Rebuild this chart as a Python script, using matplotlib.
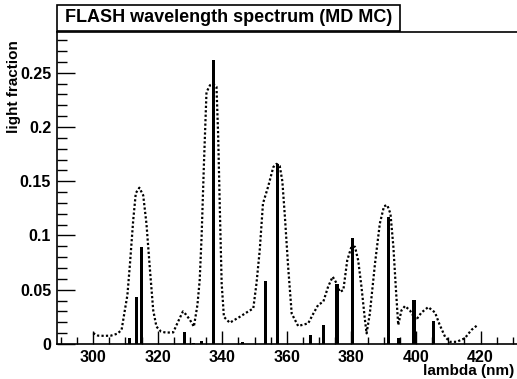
import numpy as np
import matplotlib
matplotlib.use('Agg')
import matplotlib.pyplot as plt
from matplotlib.ticker import MultipleLocator
from matplotlib.patches import Rectangle

plt.rcParams['font.family'] = ['Liberation Sans', 'DejaVu Sans']
plt.rcParams['font.weight'] = 'bold'

# MC lines (bars)
line_nm = [311.2, 313.4, 315.0, 328.2, 331.0, 333.5, 337.3, 346.3, 353.4, 357.2,
           367.3, 371.4, 375.5, 380.4, 391.5, 394.6, 399.4, 405.5]
line_frac = [0.0052, 0.0436, 0.0896, 0.0113, 0.0010, 0.0028, 0.2620, 0.0018, 0.0580, 0.1655,
             0.0083, 0.0175, 0.0552, 0.0979, 0.1170, 0.0052, 0.0405, 0.0212]

# measured spectrum (dotted)
spec_nm = [300.0, 301.5, 303.5, 305.5, 307.5, 308.8, 309.8, 310.6, 311.4, 312.4,
           313.2, 314.3, 315.5, 316.5, 317.6, 318.6, 319.6, 321.0, 322.5, 324.8,
           326.3, 327.8, 328.8, 330.0, 331.2, 332.3, 333.0, 333.6, 334.3, 335.1,
           336.2, 337.3, 338.2, 338.7, 339.3, 339.8, 340.5, 342.3, 345.4, 347.5,
           349.6, 350.6, 351.6, 352.6, 354.2, 355.8, 356.8, 357.8, 358.6, 359.4,
           360.4, 361.5, 363.5, 366.6, 368.2, 369.7, 371.3, 372.8, 374.2, 375.4,
           376.4, 377.5, 378.7, 380.0, 381.1, 382.1, 383.1, 384.2, 384.7, 385.7,
           387.3, 388.8, 390.1, 391.1, 392.1, 393.0, 393.8, 394.5, 395.5, 396.6,
           398.1, 400.0, 401.7, 403.8, 405.9, 407.3, 409.0, 410.5, 412.6, 415.1,
           417.2, 419.3]
spec_frac = [0.0100, 0.0077, 0.0075, 0.0077, 0.0095, 0.0130, 0.0310, 0.0450, 0.0740, 0.1140,
             0.1390, 0.1440, 0.1370, 0.1110, 0.0680, 0.0310, 0.0160, 0.0115, 0.0105, 0.0107,
             0.0206, 0.0300, 0.0270, 0.0221, 0.0160, 0.0360, 0.0590, 0.1000, 0.1650, 0.2320,
             0.2385, 0.2395, 0.2370, 0.1940, 0.1170, 0.0560, 0.0250, 0.0196, 0.0250, 0.0290,
             0.0328, 0.0560, 0.0866, 0.1295, 0.1450, 0.1630, 0.1660, 0.1640, 0.1500, 0.1170,
             0.0710, 0.0280, 0.0166, 0.0190, 0.0280, 0.0360, 0.0390, 0.0530, 0.0620, 0.0560,
             0.0480, 0.0497, 0.0770, 0.0896, 0.0896, 0.0770, 0.0530, 0.0220, 0.0098, 0.0280,
             0.0740, 0.1110, 0.1270, 0.1280, 0.1200, 0.0896, 0.0497, 0.0175, 0.0310, 0.0350,
             0.0310, 0.0220, 0.0290, 0.0340, 0.0290, 0.0180, 0.0067, 0.0020, 0.0020, 0.0052,
             0.0130, 0.0180]

x_ticks = [300, 320, 340, 360, 380, 400, 420]
y_ticks = [0, 0.05, 0.1, 0.15, 0.2, 0.25]
y_labels = ['0', '0.05', '0.1', '0.15', '0.2', '0.25']

W, H = 517, 379
fig = plt.figure(figsize=(W / 100, H / 100), dpi=100)
x0, x1 = 288.7, 440.0
px_per_nm = 3.228
ax = fig.add_axes([56.7 / W, (H - 344) / H, (x1 - x0) * px_per_nm / W, (344 - 32) / H])

ax.bar(line_nm, line_frac, width=1.0, color='black', linewidth=0)
ax.plot(spec_nm, spec_frac, color='black', linestyle=(0, (1, 1)), linewidth=1.6)

ax.set_xlim(x0, x1)
ax.set_ylim(0, 0.2875)
ax.set_xticks(x_ticks)
ax.xaxis.set_minor_locator(MultipleLocator(5))
ax.set_yticks(y_ticks)
ax.set_yticklabels(y_labels)
ax.yaxis.set_minor_locator(MultipleLocator(0.01))
ax.tick_params(axis='both', which='both', direction='in', labelsize=11.5, width=1)
ax.tick_params(axis='x', which='major', length=9.5, pad=4)
ax.tick_params(axis='x', which='minor', length=5)
ax.tick_params(axis='y', which='major', length=13, pad=4)
ax.tick_params(axis='y', which='minor', length=7)
for s in ['top', 'left', 'bottom']:
    ax.spines[s].set_linewidth(1.2)
ax.spines['right'].set_visible(False)

fig.text(514 / W, 1 - 371 / H, 'lambda (nm)', ha='right', va='center',
         fontsize=11, fontweight='bold')
fig.text(14 / W, 1 - 40 / H, 'light fraction', ha='center', va='top',
         rotation=90, fontsize=11, fontweight='bold')

# title box
fig.patches.append(Rectangle((57 / W, 1 - 31 / H), (400 - 57) / W, 26 / H,
                             transform=fig.transFigure, facecolor='white',
                             edgecolor='black', linewidth=1.2))
fig.text(229 / W, 1 - 18 / H, 'FLASH wavelength spectrum (MD MC)', ha='center', va='center',
         fontsize=13, fontweight='bold')

fig.savefig('out.png', dpi=100)
